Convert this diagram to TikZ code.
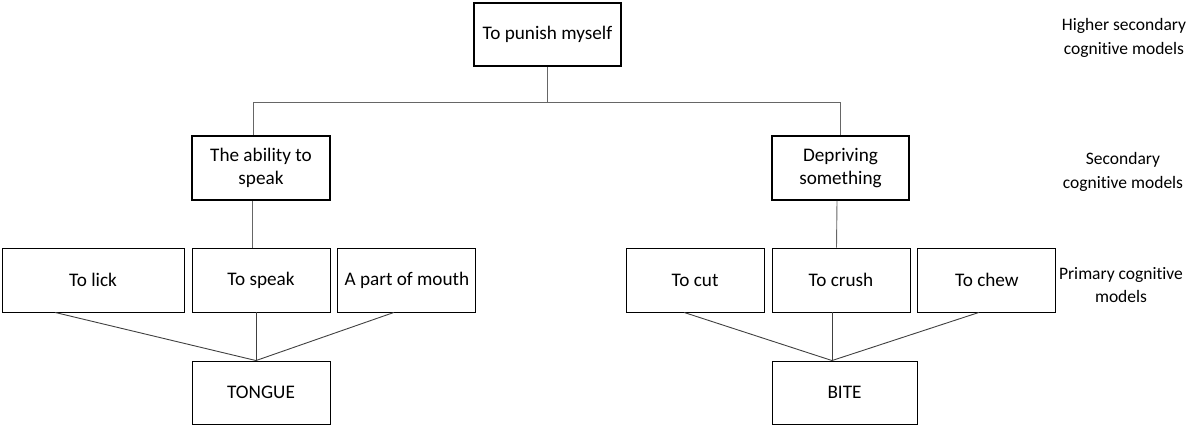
\documentclass[tikz,border=0pt]{standalone}
\usepackage{fontspec}
\setmainfont[Ligatures=NoCommon]{Carlito}
\usepackage{tikz}
\usetikzlibrary{positioning}

\begin{document}
\begin{tikzpicture}[
    x=1pt, y=-1pt,
    node distance=7pt,
    font=\fontsize{19.2}{23.5}\selectfont,
    box/.style={rectangle, draw=black, line width=0.9pt, minimum width=138pt, minimum height=64pt, align=center, inner sep=2pt},
    bigbox/.style={box, line width=1.6pt},
    link/.style={draw=black!60, line width=0.9pt},
    level/.style={align=center, inner sep=0pt, font=\fontsize{17.5}{23.5}\selectfont}
]
\useasboundingbox (0,0) rectangle (1189,428);

% Nodes
\node[bigbox, minimum width=147pt, minimum height=63pt] (punish) at (547.5,34.5) {To punish myself};
\node[bigbox] (ability) at (261,168) {The ability to\\speak};
\node[bigbox, minimum width=137pt] (depriving) at (840.5,168) {Depriving\\something};

\node[box] (speak) at (261,280) {To speak};
\node[box, minimum width=182pt, left=of speak] (lick) {To lick};
\node[box, right=of speak] (mouth) {A part of mouth};
\node[box] (crush) at (841,280) {To crush};
\node[box, left=of crush] (cut) {To cut};
\node[box, right=of crush] (chew) {To chew};

\node[box, minimum height=63pt] (tongue) at (261,392.5) {TONGUE};
\node[box, minimum width=145pt, minimum height=63pt] (bite) at (844.5,392.5) {BITE};

\node[level] (higher) at (1124,38) {Higher secondary\\cognitive models};
\node[level] (secondary) at (1123,172) {Secondary\\cognitive models};
\node[level] (primary) at (1121,285) {Primary cognitive\\models};

% Edges
\coordinate (jl) at (253,102);
\coordinate (jr) at (840,102);
\draw[link] (punish.south) -- (punish.south |- jl);
\draw[link] (jl) -- (jr);
\draw[link] (jl) -- (jl |- ability.north);
\draw[link] (jr) -- (jr |- depriving.north);
\draw[link] ([xshift=-9pt]ability.south) -- ([xshift=-9pt]speak.north);
\draw[link] ([xshift=-3.5pt]depriving.south) -- ([xshift=-4.5pt]crush.north);

\draw[link, draw=black!75] ([xshift=-38pt]lick.south) -- ([xshift=-5pt]tongue.north);
\draw[link, draw=black!75] ([xshift=-5pt]speak.south) -- ([xshift=-5pt]tongue.north);
\draw[link, draw=black!75] ([xshift=-13pt]mouth.south) -- ([xshift=-5pt]tongue.north);
\draw[link, draw=black!75] ([xshift=-11pt]cut.south) -- ([xshift=-12.5pt]bite.north);
\draw[link, draw=black!75] ([xshift=-9pt]crush.south) -- ([xshift=-12.5pt]bite.north);
\draw[link, draw=black!75] ([xshift=-8pt]chew.south) -- ([xshift=-12.5pt]bite.north);

\end{tikzpicture}
\end{document}
